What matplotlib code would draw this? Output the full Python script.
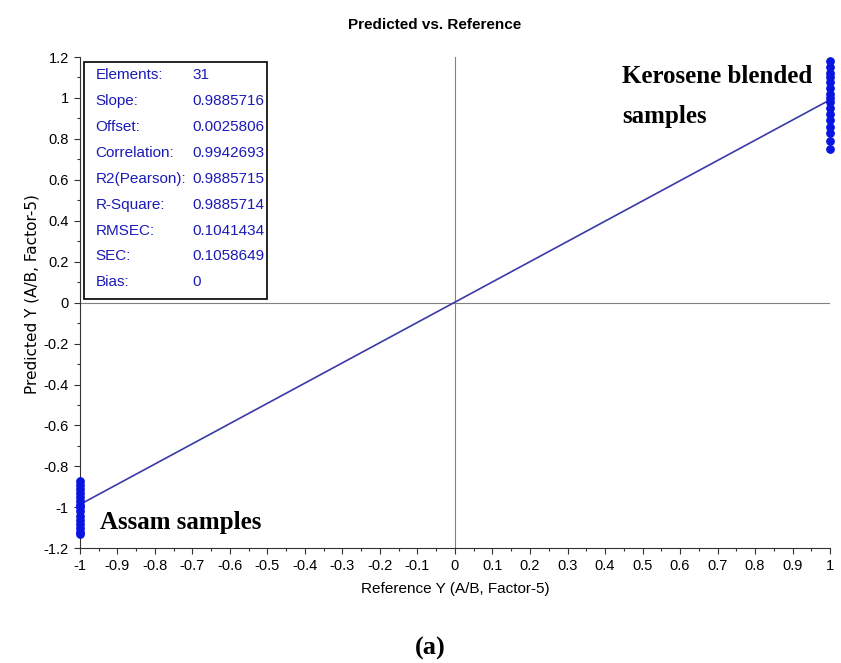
import numpy as np
import matplotlib.pyplot as plt
from matplotlib.ticker import MultipleLocator

# data
ref_kero = [1.0] * 16
pred_kero = [1.18, 1.15, 1.12, 1.10, 1.08, 1.05, 1.02, 1.00, 0.98, 0.95, 0.92, 0.89, 0.86, 0.83, 0.79, 0.75]
ref_assam = [-1.0] * 15
pred_assam = [-0.87, -0.89, -0.91, -0.93, -0.95, -0.97, -0.99, -1.00, -1.02, -1.04, -1.06, -1.08, -1.10, -1.12, -1.13]
slope = 0.9885716
offset = 0.0025806

stat_names = ['Elements:', 'Slope:', 'Offset:', 'Correlation:', 'R2(Pearson):',
              'R-Square:', 'RMSEC:', 'SEC:', 'Bias:']
stat_values = ['31', '0.9885716', '0.0025806', '0.9942693', '0.9885715',
               '0.9885714', '0.1041434', '0.1058649', '0']

xticks = np.round(np.arange(-1, 1.01, 0.1), 1)
yticks = np.round(np.arange(-1.2, 1.21, 0.2), 1)

sans = ['Liberation Sans', 'DejaVu Sans']
serif = ['Liberation Serif', 'DejaVu Serif']


def fmt(v):
    return '0' if abs(v) < 1e-9 else f'{v:g}'


fig = plt.figure(figsize=(8.41, 6.63), dpi=100)
ax = fig.add_axes([0.095, 0.173, 0.892, 0.741])

ax.axhline(0, color='#808080', lw=0.8, zorder=1)
ax.axvline(0, color='#808080', lw=0.8, zorder=1)

xl = np.array([-1, 1])
ax.plot(xl, slope * xl + offset, color='#3a3aa8', lw=1.2, zorder=2)

ax.scatter(ref_kero, pred_kero, s=28, color='#0a14e0', zorder=3, clip_on=False)
ax.scatter(ref_assam, pred_assam, s=28, color='#0a14e0', zorder=3, clip_on=False)

ax.set_xlim(-1, 1)
ax.set_ylim(-1.2, 1.2)
ax.set_xticks(xticks)
ax.set_yticks(yticks)
ax.set_xticklabels([fmt(v) for v in xticks], family=sans, fontsize=10.5)
ax.set_yticklabels([fmt(v) for v in yticks], family=sans, fontsize=10.5)
ax.xaxis.set_minor_locator(MultipleLocator(0.05))
ax.yaxis.set_minor_locator(MultipleLocator(0.1))
ax.tick_params(which='major', length=4, width=0.8, color='#333333', pad=4)
ax.tick_params(which='minor', length=2, width=0.8, color='#333333')
for s in ['top', 'right']:
    ax.spines[s].set_visible(False)
for s in ['left', 'bottom']:
    ax.spines[s].set_color('#333333')

ax.set_xlabel('Reference Y (A/B, Factor-5)', family=sans, fontsize=11, labelpad=6)
ax.set_ylabel('Predicted Y (A/B, Factor-5)', fontsize=11, va='center')
ax.yaxis.set_label_coords(-0.064, 0.517)
fig.text(0.517, 0.962, 'Predicted vs. Reference', family=sans, fontsize=11,
         fontweight='bold', ha='center', va='center')

# statistics box
box = plt.Rectangle((0.005, 0.508), 0.245, 0.482, transform=ax.transAxes,
                    facecolor='white', edgecolor='black', lw=1.2, zorder=4)
ax.add_patch(box)
for i, (n, v) in enumerate(zip(stat_names, stat_values)):
    yy = 0.963 - i * 0.0527
    ax.text(0.021, yy, n, transform=ax.transAxes, color='#1a1ab8', family=sans,
            fontsize=11, va='center', zorder=5)
    ax.text(0.150, yy, v, transform=ax.transAxes, color='#1a1ab8', family=sans,
            fontsize=11, va='center', zorder=5)

ax.text(0.723, 0.960, 'Kerosene blended', transform=ax.transAxes, family=serif,
        fontsize=18, fontweight='bold', va='center', ha='left')
ax.text(0.723, 0.878, 'samples', transform=ax.transAxes, family=serif,
        fontsize=18, fontweight='bold', va='center', ha='left')
ax.text(0.027, 0.053, 'Assam samples', transform=ax.transAxes, family=serif,
        fontsize=18, fontweight='bold', va='center', ha='left')

fig.text(0.511, 0.022, '(a)', family=serif, fontsize=19, fontweight='bold',
         ha='center', va='center')

fig.savefig('out.png', dpi=100)
